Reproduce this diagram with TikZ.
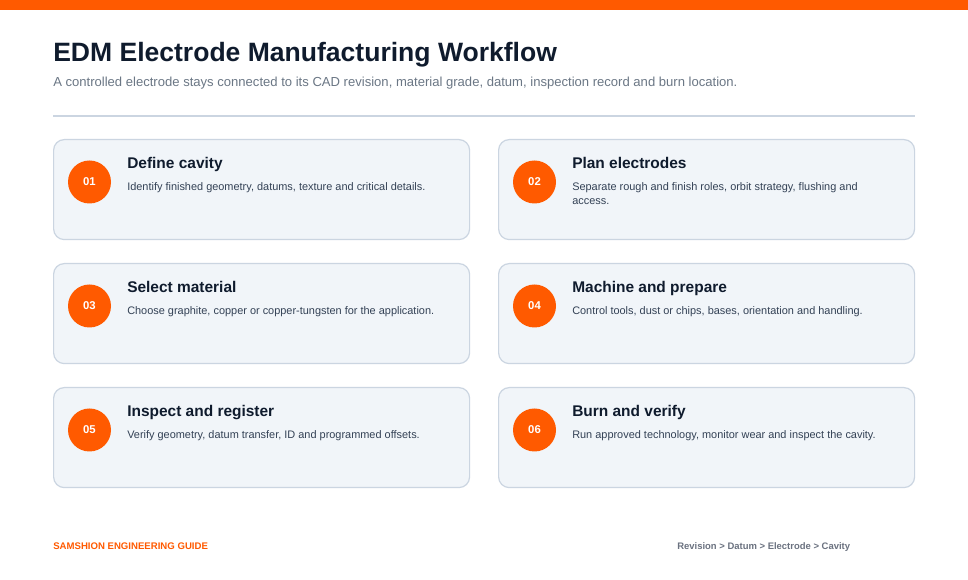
\documentclass[tikz,border=0pt]{standalone}
\usepackage{fontspec}
\setmainfont{Liberation Sans}
\usetikzlibrary{positioning}

\definecolor{accent}{HTML}{FF5A00}
\definecolor{ink}{HTML}{0F1B2D}
\definecolor{muted}{HTML}{6B7785}
\definecolor{body}{HTML}{334155}
\definecolor{cardfill}{HTML}{F1F5F9}
\definecolor{cardline}{HTML}{CBD5E1}
\definecolor{footgray}{HTML}{6B7280}

\begin{document}
\begin{tikzpicture}[x=0.75pt, y=-0.75pt,
    card/.style={draw=cardline, fill=cardfill, line width=0.9pt, rounded corners=8pt,
        minimum width=416*0.75pt, minimum height=100*0.75pt, inner sep=0pt, anchor=north west},
    badge/.style={circle, fill=accent, minimum size=43*0.75pt, inner sep=0pt,
        text=white, font=\bfseries\fontsize{8.5}{10}\selectfont},
    head/.style={anchor=base west, inner sep=0pt, text=ink, font=\bfseries\fontsize{11.6}{14}\selectfont},
    desc/.style={anchor=base west, inner sep=0pt, text=body, align=left,
        font=\fontsize{8.2}{10.5}\selectfont}]
    \def\dx{445}
    \def\dy{124}
    % page and header
    \fill[white] (0,0) rectangle (968,580);
    \fill[accent] (0,0) rectangle (968,10);
    \node (title) [anchor=base west, inner sep=0pt, text=ink, font=\bfseries\fontsize{19.9}{23}\selectfont]
        at (53,62) {EDM Electrode Manufacturing Workflow};
    \node (subtitle) [anchor=base west, inner sep=0pt, text=muted, font=\fontsize{9.8}{12}\selectfont]
        at (53,87) {A controlled electrode stays connected to its CAD revision, material grade, datum, inspection record and burn location.};
    \coordinate (ruleL) at (53,116);
    \coordinate (ruleR) at (915,116);
    \draw[cardline, line width=0.9pt] (ruleL) -- (ruleR);

    % row 1
    \node (card1) [card] at (53,139) {};
    \node (badge1) [badge] at (89.5,182) {01};
    \node (head1) [head] at (127,169) {Define cavity};
    \node (desc1) [desc] at (127,191) {Identify finished geometry, datums, texture and critical details.};
    \node (card2) [card] at (53+\dx,139) {};
    \node (badge2) [badge] at (89.5+\dx,182) {02};
    \node (head2) [head] at (127+\dx,169) {Plan electrodes};
    % two lines: base is the second line
    \node (desc2) [desc] at (127+\dx,205) {Separate rough and finish roles, orbit strategy, flushing and\\access.};

    % row 2
    \node (card3) [card] at (53,139+\dy) {};
    \node (badge3) [badge] at (89.5,182+\dy) {03};
    \node (head3) [head] at (127,169+\dy) {Select material};
    \node (desc3) [desc] at (127,191+\dy) {Choose graphite, copper or copper-tungsten for the application.};
    \node (card4) [card] at (53+\dx,139+\dy) {};
    \node (badge4) [badge] at (89.5+\dx,182+\dy) {04};
    \node (head4) [head] at (127+\dx,169+\dy) {Machine and prepare};
    \node (desc4) [desc] at (127+\dx,191+\dy) {Control tools, dust or chips, bases, orientation and handling.};

    % row 3
    \node (card5) [card] at (53,139+2*\dy) {};
    \node (badge5) [badge] at (89.5,182+2*\dy) {05};
    \node (head5) [head] at (127,169+2*\dy) {Inspect and register};
    \node (desc5) [desc] at (127,191+2*\dy) {Verify geometry, datum transfer, ID and programmed offsets.};
    \node (card6) [card] at (53+\dx,139+2*\dy) {};
    \node (badge6) [badge] at (89.5+\dx,182+2*\dy) {06};
    \node (head6) [head] at (127+\dx,169+2*\dy) {Burn and verify};
    \node (desc6) [desc] at (127+\dx,191+2*\dy) {Run approved technology, monitor wear and inspect the cavity.};

    % footer
    \node (brand) [anchor=base west, inner sep=0pt, text=accent, font=\bfseries\fontsize{7.2}{8}\selectfont]
        at (53,549.5) {SAMSHION ENGINEERING GUIDE};
    \node (trail) [anchor=base west, inner sep=0pt, text=footgray, font=\bfseries\fontsize{7.1}{8}\selectfont]
        at (677,549.5) {Revision > Datum > Electrode > Cavity};
\end{tikzpicture}
\end{document}
